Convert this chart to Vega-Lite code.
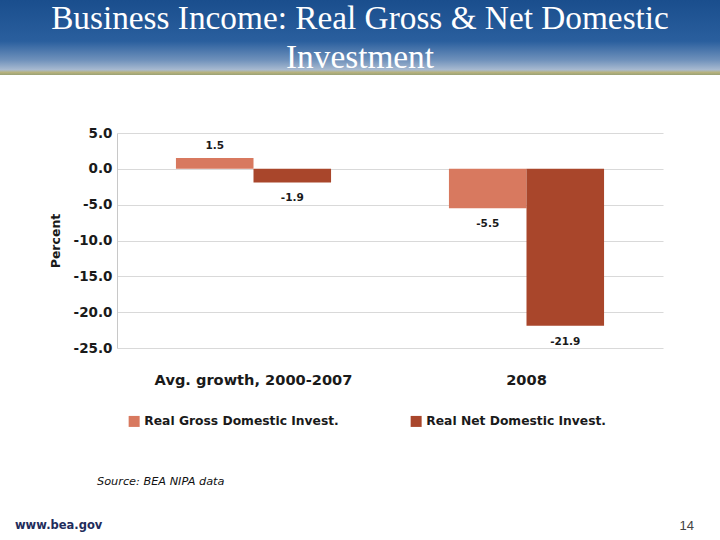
{
  "$schema": "https://vega.github.io/schema/vega-lite/v6.json",
  "padding": 0,
  "background": "white",
  "spacing": 51,
  "config": {
    "view": {"stroke": null},
    "locale": {"number": {"decimal": ".", "thousands": ",", "grouping": [3], "currency": ["$", ""], "minus": "-"}}
  },
  "resolve": {"legend": {"color": "independent"}, "scale": {"color": "independent"}},
  "vconcat": [
    {
      "width": 720,
      "height": 75,
      "data": {"values": [{"title": "Business Income: Real Gross & Net Domestic\nInvestment"}]},
      "layer": [
        {
          "mark": {
            "type": "rect",
            "fill": {
              "gradient": "linear",
              "x1": 0, "y1": 0, "x2": 0, "y2": 1,
              "stops": [
                {"offset": 0, "color": "#1a4e8d"},
                {"offset": 0.55, "color": "#2a5f9e"},
                {"offset": 0.8, "color": "#6f91bb"},
                {"offset": 0.93, "color": "#a8bad0"},
                {"offset": 0.965, "color": "#b7b27e"},
                {"offset": 1, "color": "#9aa174"}
              ]
            }
          },
          "encoding": {}
        },
        {
          "mark": {
            "type": "text",
            "font": "Liberation Serif",
            "fontSize": 33.3,
            "color": "white",
            "lineBreak": "\n",
            "lineHeight": 39,
            "baseline": "middle",
            "align": "center",
            "dy": -19
          },
          "encoding": {"text": {"field": "title", "type": "nominal"}}
        }
      ]
    },
    {
      "spacing": 28,
      "resolve": {"legend": {"color": "independent"}, "scale": {"color": "independent"}},
      "vconcat": [
        {
          "spacing": 48,
          "resolve": {"legend": {"color": "independent"}, "scale": {"color": "independent"}},
          "hconcat": [
            {
              "width": 1,
              "height": 1,
              "data": {"values": []},
              "mark": {"type": "rect", "opacity": 0},
              "encoding": {}
            },
            {
              "width": 546,
              "height": 215,
              "data": {
                "values": [
                  {"period": "Avg. growth, 2000-2007", "series": "Real Gross Domestic Invest.", "value": 1.5},
                  {"period": "Avg. growth, 2000-2007", "series": "Real Net Domestic Invest.", "value": -1.9},
                  {"period": "2008", "series": "Real Gross Domestic Invest.", "value": -5.5},
                  {"period": "2008", "series": "Real Net Domestic Invest.", "value": -21.9}
                ]
              },
              "title": {
                "text": "Source: BEA NIPA data",
                "orient": "bottom",
                "anchor": "start",
                "frame": "group",
                "dx": -20,
                "offset": 37,
                "font": "DejaVu Sans",
                "fontSize": 11.3,
                "fontStyle": "italic",
                "fontWeight": "normal",
                "color": "#111111"
              },
              "encoding": {
                "x": {
                  "field": "period",
                  "type": "nominal",
                  "sort": ["Avg. growth, 2000-2007", "2008"],
                  "scale": {"paddingInner": 0, "paddingOuter": 0},
                  "axis": {
                    "title": null,
                    "labelAngle": 0,
                    "labelLimit": 0,
                    "domain": false,
                    "ticks": false,
                    "grid": false,
                    "labelPadding": 24,
                    "labelFont": "DejaVu Sans",
                    "labelFontSize": 14.6,
                    "labelFontWeight": "bold",
                    "labelColor": "#1a1a1a"
                  }
                },
                "xOffset": {
                  "field": "series",
                  "type": "nominal",
                  "sort": ["Real Gross Domestic Invest.", "Real Net Domestic Invest."],
                  "scale": {"paddingInner": 0, "paddingOuter": 0.76}
                },
                "y": {
                  "field": "value",
                  "type": "quantitative",
                  "scale": {"domain": [-25, 5], "nice": false},
                  "axis": {
                    "values": [5, 0, -5, -10, -15, -20, -25],
                    "format": ".1f",
                    "grid": true,
                    "gridColor": "#d9d9d9",
                    "domain": true,
                    "domainColor": "#c8c8c8",
                    "ticks": false,
                    "labelPadding": 5,
                    "labelFont": "DejaVu Sans",
                    "labelFontSize": 13.5,
                    "labelFontWeight": "bold",
                    "labelColor": "#1a1a1a",
                    "title": "Percent",
                    "titleFont": "DejaVu Sans",
                    "titleFontSize": 12.5,
                    "titleFontWeight": "bold",
                    "titleColor": "#1a1a1a",
                    "titlePadding": 11
                  }
                }
              },
              "layer": [
                {
                  "mark": {"type": "bar"},
                  "encoding": {
                    "color": {
                      "field": "series",
                      "type": "nominal",
                      "sort": ["Real Gross Domestic Invest.", "Real Net Domestic Invest."],
                      "scale": {"range": ["#d8795f", "#a9462b"]},
                      "legend": {
                        "orient": "bottom",
                        "direction": "horizontal",
                        "title": null,
                        "symbolType": "square",
                        "symbolSize": 121,
                        "symbolStrokeWidth": 0,
                        "labelFont": "DejaVu Sans",
                        "labelFontSize": 12.3,
                        "labelFontWeight": "bold",
                        "labelColor": "#1a1a1a",
                        "labelLimit": 0,
                        "labelOffset": 4,
                        "columnPadding": 71,
                        "padding": 11,
                        "offset": 17
                      }
                    }
                  }
                },
                {
                  "transform": [{"filter": "datum.value >= 0"}],
                  "mark": {"type": "text", "dy": -12, "baseline": "middle", "font": "DejaVu Sans", "fontSize": 10.5, "fontWeight": "bold", "color": "#1a1a1a"},
                  "encoding": {"text": {"field": "value", "type": "quantitative", "format": ".1f"}}
                },
                {
                  "transform": [{"filter": "datum.value < 0"}],
                  "mark": {"type": "text", "dy": 16, "baseline": "middle", "font": "DejaVu Sans", "fontSize": 10.5, "fontWeight": "bold", "color": "#1a1a1a"},
                  "encoding": {"text": {"field": "value", "type": "quantitative", "format": ".1f"}}
                }
              ]
            }
          ]
        },
        {
          "width": 720,
          "height": 20,
          "data": {"values": [{"item": "website", "label": "www.bea.gov"}, {"item": "page number", "label": "14"}]},
          "encoding": {
            "x": {"field": "item", "type": "nominal", "sort": ["website", "page number"], "scale": {"type": "point", "padding": 0}, "axis": null},
            "text": {"field": "label", "type": "nominal"}
          },
          "layer": [
            {
              "transform": [{"filter": "datum.item == 'website'"}],
              "mark": {"type": "text", "align": "left", "dx": 15, "baseline": "middle", "font": "DejaVu Sans", "fontSize": 11.5, "fontWeight": "bold", "color": "#1f2d5c"}
            },
            {
              "transform": [{"filter": "datum.item == 'page number'"}],
              "mark": {"type": "text", "align": "right", "dx": -26, "baseline": "middle", "font": "Liberation Sans", "fontSize": 13, "color": "#444444"}
            }
          ]
        }
      ]
    }
  ]
}
